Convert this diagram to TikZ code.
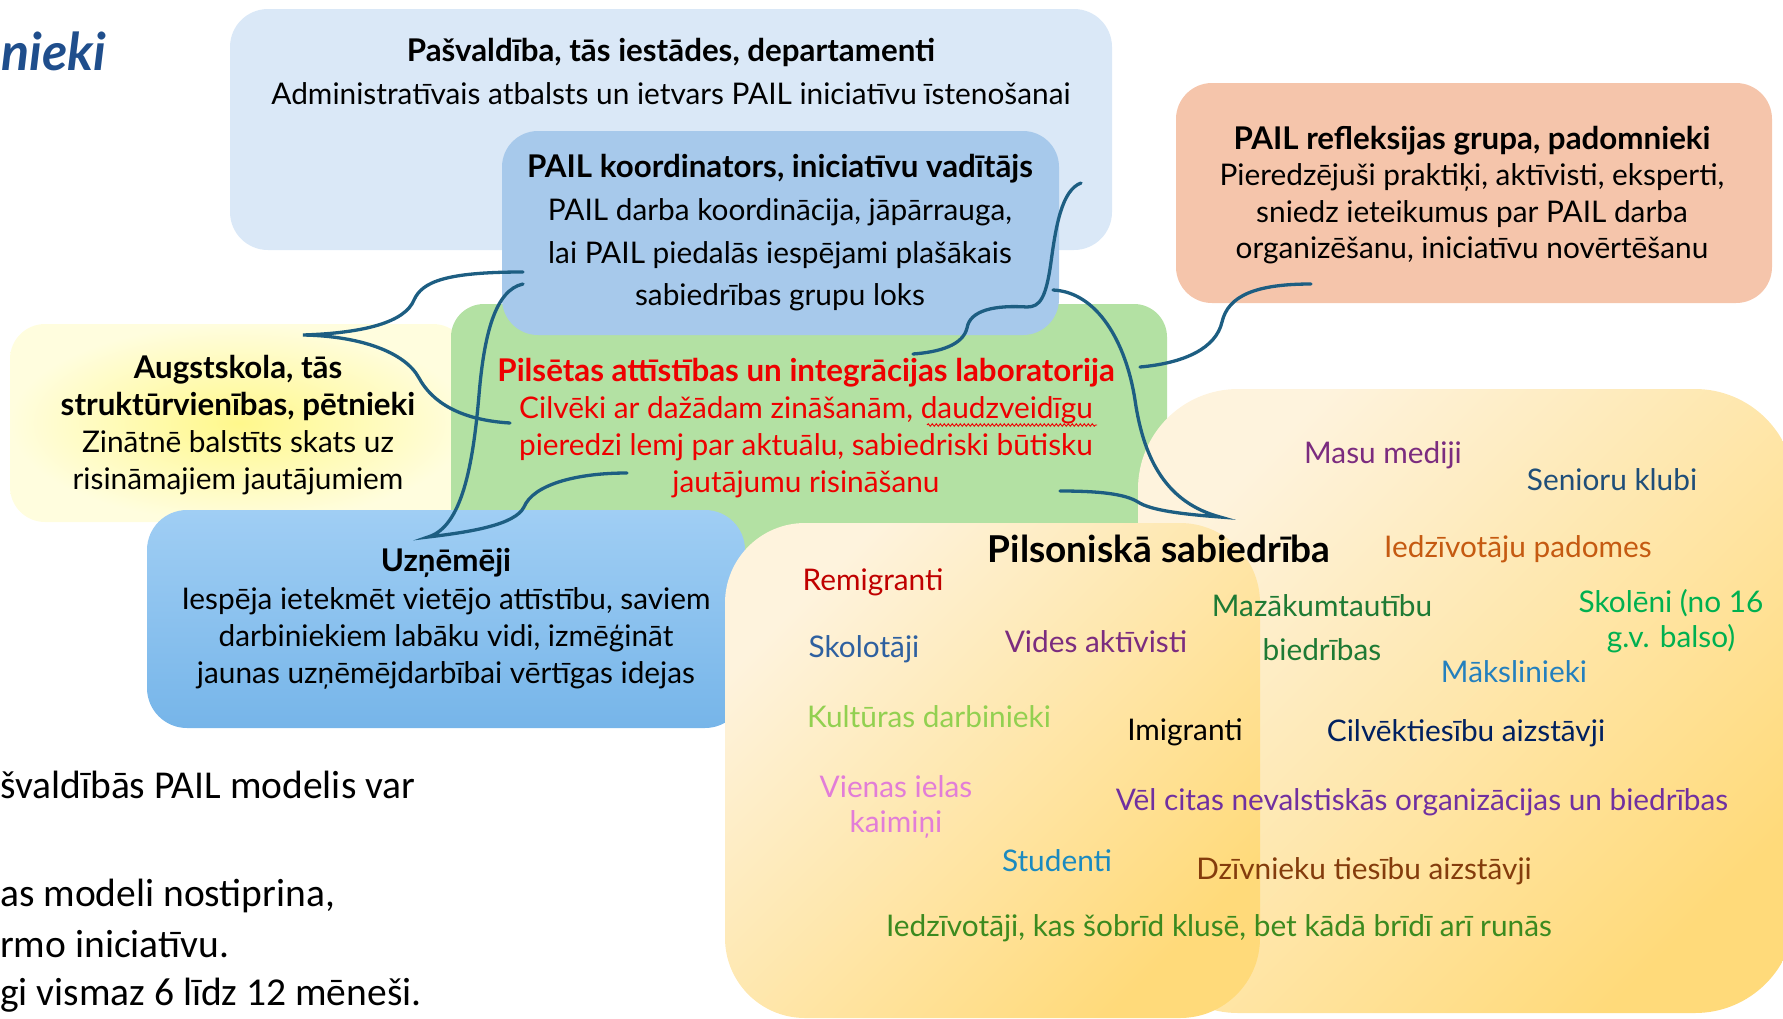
\documentclass[tikz,border=0pt]{standalone}
\usepackage{fontspec}
\setmainfont{Lato}
\newfontfamily\slidefont{Carlito}
\usepackage{tikz}
\usetikzlibrary{positioning}
\usetikzlibrary{decorations.pathmorphing}
\definecolor{pasvfill}{RGB}{218,232,247}
\definecolor{koordfill}{RGB}{167,201,235}
\definecolor{reflexfill}{RGB}{245,197,171}
\definecolor{labfill}{RGB}{179,225,163}
\definecolor{augstcore}{RGB}{255,248,140}
\definecolor{augstedge}{RGB}{255,253,222}
\definecolor{uzntop}{RGB}{160,206,244}
\definecolor{uznbottom}{RGB}{118,181,233}
\definecolor{pilslight}{RGB}{254,243,221}
\definecolor{pilsdark}{RGB}{255,218,122}
\definecolor{linkblue}{RGB}{29,94,130}
\definecolor{labred}{RGB}{238,0,0}
\definecolor{titleblue}{RGB}{31,78,140}
\definecolor{masupurple}{RGB}{123,44,127}
\definecolor{seniorblue}{RGB}{31,78,121}
\definecolor{padomorange}{RGB}{197,90,17}
\definecolor{remigred}{RGB}{192,0,0}
\definecolor{mazakgreen}{RGB}{30,122,52}
\definecolor{skolgreen}{RGB}{0,176,80}
\definecolor{skolotblue}{RGB}{46,96,160}
\definecolor{makslblue}{RGB}{36,128,190}
\definecolor{kultgreen}{RGB}{146,208,80}
\definecolor{cilvnavy}{RGB}{0,32,96}
\definecolor{vienaspink}{RGB}{226,125,216}
\definecolor{velpurple}{RGB}{112,48,160}
\definecolor{studblue}{RGB}{27,138,192}
\definecolor{dzivnbrown}{RGB}{132,60,12}
\definecolor{iedzgreen}{RGB}{59,138,31}
\newcommand{\boxtitle}[1]{{\fontsize{31.3}{37}\selectfont\bfseries #1}}

\tikzset{
	box/.style={rectangle, rounded corners=#1, inner sep=0pt},
	txt/.style={align=center, inner sep=0pt, font=\fontsize{29.8}{37}\selectfont},
	slidetxt/.style={anchor=west, inner sep=0pt, font=\slidefont\fontsize{39.5}{44}\selectfont},
	link/.style={draw=linkblue, line width=3.3pt, line cap=round}
}

\begin{document}
\begin{tikzpicture}[x=1pt, y=-1pt]
	\useasboundingbox (0,0) rectangle (1783,1018);
	\clip (0,0) rectangle (1783,1018);

	% slide behind the diagram
	\node[anchor=west, inner sep=0pt, text=titleblue, font=\fontsize{52}{60}\selectfont\bfseries\itshape] (slidetitle) at (1,51) {nieki};
	\node[slidetxt] (slideA) at (0,785) {švaldībās PAIL modelis var};
	\node[slidetxt] (slideB) at (0,896) {as modeli nostiprina,};
	\node[slidetxt] (slideC) at (0,944) {rmo iniciatīvu.};
	\node[slidetxt] (slideD) at (0,995) {gi vismaz 6 līdz 12 mēneši.};

	% boxes
	\node[box=38, fill=pasvfill, minimum width=882pt, minimum height=241pt] (pasv) at (671,129.5) {};
	\node[box=35, inner color=augstcore, outer color=augstedge, minimum width=458pt, minimum height=198pt] (augst) at (239,423) {};
	\node[box=33, fill=labfill, minimum width=716pt, minimum height=256pt] (lab) at (809,432) {};
	\node[box=36, fill=koordfill, minimum width=557pt, minimum height=204pt] (koord) at (780.5,233) {};
	\node[box=40, top color=uzntop, bottom color=uznbottom, minimum width=598pt, minimum height=218pt] (uzn) at (446,619) {};
	\node[box=36, fill=reflexfill, minimum width=596pt, minimum height=220pt] (reflex) at (1474,193) {};
	\node[box=100, top color=pilslight, bottom color=pilsdark, shading angle=45, minimum width=657pt, minimum height=624pt] (pilsback) at (1466.5,701) {};
	\node[box=80, top color=pilslight, bottom color=pilsdark, shading angle=45, minimum width=535pt, minimum height=495pt] (pilsfront) at (992.5,770.5) {};

	% box texts
	\node[txt, font=\fontsize{29.8}{43}\selectfont] (pasvtext) at (671,71) {\boxtitle{Pašvaldība, tās iestādes, departamenti}\\Administratīvais atbalsts un ietvars PAIL iniciatīvu īstenošanai};
	\node[txt, font=\fontsize{29.8}{42.7}\selectfont] (koordtext) at (780,233) {\boxtitle{PAIL koordinators, iniciatīvu vadītājs}\\PAIL darba koordinācija, jāpārrauga,\\lai PAIL piedalās iespējami plašākais\\sabiedrības grupu loks};
	\node[txt, font=\fontsize{29.8}{36.3}\selectfont] (reflextext) at (1472,195) {\boxtitle{PAIL refleksijas grupa, padomnieki}\\Pieredzējuši praktiķi, aktīvisti, eksperti,\\sniedz ieteikumus par PAIL darba\\organizēšanu, iniciatīvu novērtēšanu};
	\node[txt] (augsttext) at (238,425) {\boxtitle{Augstskola, tās}\\\boxtitle{struktūrvienības, pētnieki}\\Zinātnē balstīts skats uz\\risināmajiem jautājumiem};
	\node[txt, text=labred] (labtext) at (806,428) {\boxtitle{Pilsētas attīstības un integrācijas laboratorija}\\Cilvēki ar dažādam zināšanām, daudzveidīgu\\pieredzi lemj par aktuālu, sabiedriski būtisku\\jautājumu risināšanu};
	\coordinate (waveA) at (927,425);
	\coordinate (waveB) at (1097,425);
	\draw[labred, line width=0.9pt, decorate, decoration={snake, amplitude=1.3pt, segment length=4pt}] (waveA) -- (waveB);
	\node[txt, font=\fontsize{29.8}{37.3}\selectfont] (uzntext) at (446,619) {\boxtitle{Uzņēmēji}\\Iespēja ietekmēt vietējo attīstību, saviem\\darbiniekiem labāku vidi, izmēģināt\\jaunas uzņēmējdarbībai vērtīgas idejas};

	% civil society
	\node[txt, font=\fontsize{37}{42}\selectfont\bfseries] (pilstitle) at (1159,549) {Pilsoniskā sabiedrība};
	\node[txt, text=masupurple] (masu) at (1383,455) {Masu mediji};
	\node[txt, text=seniorblue] (senioru) at (1612,480) {Senioru klubi};
	\node[txt, text=padomorange] (padomes) at (1518,549) {Iedzīvotāju padomes};
	\node[txt, text=remigred] (remigr) at (873,582) {Remigranti};
	\node[txt, text=mazakgreen, font=\fontsize{29.8}{44}\selectfont] (mazak) at (1322,628) {Mazākumtautību\\biedrības};
	\node[txt, text=skolgreen, font=\fontsize{29.8}{35}\selectfont] (skoleni) at (1671,621.5) {Skolēni (no 16\\g.v. balso)};
	\node[txt, text=skolotblue] (skolot) at (864,649) {Skolotāji};
	\node[txt, text=masupurple] (vides) at (1096,642) {Vides aktīvisti};
	\node[txt, text=makslblue] (maksl) at (1514,672) {Mākslinieki};
	\node[txt, text=kultgreen] (kult) at (929,717) {Kultūras darbinieki};
	\node[txt, text=black] (imigr) at (1185,732) {Imigranti};
	\node[txt, text=cilvnavy] (cilvek) at (1466,733) {Cilvēktiesību aizstāvji};
	\node[txt, text=vienaspink, font=\fontsize{29.8}{35}\selectfont] (vienas) at (896,806.5) {Vienas ielas\\kaimiņi};
	\node[txt, text=velpurple] (velcitas) at (1422,802) {Vēl citas nevalstiskās organizācijas un biedrības};
	\node[txt, text=studblue] (stud) at (1057,861) {Studenti};
	\node[txt, text=dzivnbrown] (dzivn) at (1364,871) {Dzīvnieku tiesību aizstāvji};
	\node[txt, text=iedzgreen] (iedz) at (1219,928) {Iedzīvotāji, kas šobrīd klusē, bet kādā brīdī arī runās};

	% connectors
	\coordinate (augstA) at (523,272);
	\coordinate (augsttip) at (303,335);
	\coordinate (augstB) at (510,423);
	\coordinate (uznA) at (523,284);
	\coordinate (uzntip) at (428,537);
	\coordinate (uznB) at (627,473);
	\coordinate (koordC) at (1081,183);
	\coordinate (koordcusp) at (1027,307);
	\coordinate (labC) at (913,354);
	\coordinate (koordD) at (1053,290);
	\coordinate (pilstip) at (1220,517);
	\coordinate (labD) at (1060,491);
	\coordinate (labE) at (1140,367);
	\coordinate (reflexE) at (1311,284);

	\draw[link] (augstA) .. controls (445,272) and (422,282) .. (414,300) .. controls (405,322) and (365,333) .. (augsttip)
		.. controls (360,336) and (405,352) .. (419,378) .. controls (432,402) and (460,420) .. (augstB);
	\draw[link] (uznA) .. controls (495,290) and (484,335) .. (479,395) .. controls (473,465) and (462,527) .. (uzntip)
		.. controls (470,532) and (515,525) .. (524,507) .. controls (533,485) and (575,473) .. (uznB);
	\draw[link] (koordC) .. controls (1062,190) and (1056,225) .. (1051,262) .. controls (1046,298) and (1040,307) .. (koordcusp)
		.. controls (995,305) and (970,310) .. (967,328) .. controls (963,345) and (940,352) .. (labC);
	\draw[link] (koordD) .. controls (1097,292) and (1126,342) .. (1135,400) .. controls (1144,462) and (1168,503) .. (pilstip)
		.. controls (1180,514) and (1150,510) .. (1138,502) .. controls (1125,494) and (1100,491) .. (labD);
	\draw[link] (labE) .. controls (1185,363) and (1216,348) .. (1222,322) .. controls (1228,296) and (1255,284) .. (reflexE);
\end{tikzpicture}
\end{document}
